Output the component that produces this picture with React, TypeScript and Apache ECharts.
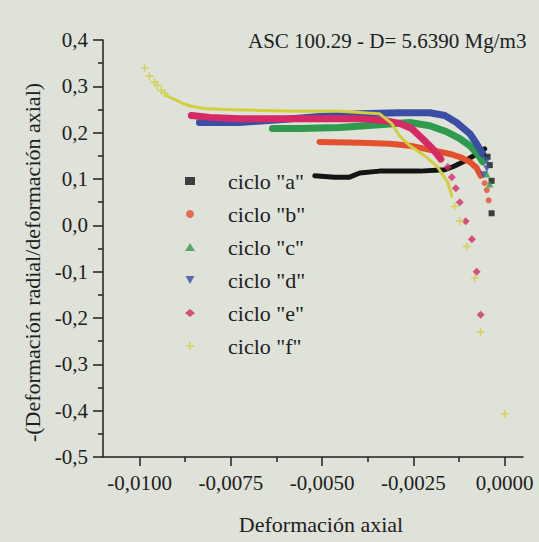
import React, { useEffect, useRef } from "react";
import * as echarts from "echarts";

const FONT = "'Liberation Serif', 'DejaVu Serif', serif";
const TEXT = "#202020";

const titleText = "ASC 100.29 - D= 5.6390 Mg/m3";
const xName = "Deformación axial";
const yName = "-(Deformación radial/deformación axial)";

const names = ['ciclo "a"', 'ciclo "b"', 'ciclo "c"', 'ciclo "d"', 'ciclo "e"', 'ciclo "f"'];
const colors = ["#141414", "#e4502e", "#2f9a4c", "#3a4ea6", "#d62a66", "#d2cf3e"];

const xMajorTicks = [-0.01, -0.0075, -0.005, -0.0025, 0];
const xMinorTicks = [-0.00875, -0.00625, -0.00375, -0.00125];

// ciclo "a"
const aBand = [
  [-0.0052, 0.107], [-0.00466, 0.104], [-0.00425, 0.104], [-0.00397, 0.113],
  [-0.00343, 0.117], [-0.00233, 0.117], [-0.00164, 0.12], [-0.00137, 0.128],
  [-0.00104, 0.141], [-0.00077, 0.154], [-0.00055, 0.165],
];
const aPoints = [
  [-0.00047, 0.148], [-0.00041, 0.13], [-0.00036, 0.096], [-0.00036, 0.026],
];
// ciclo "b"
const bBand = [
  [-0.00507, 0.18], [-0.00397, 0.178], [-0.00315, 0.176], [-0.0026, 0.172],
  [-0.00205, 0.163], [-0.0015, 0.154], [-0.00118, 0.146], [-0.00096, 0.137],
  [-0.00077, 0.124], [-0.00066, 0.107],
];
const bPoints = [[-0.00055, 0.091], [-0.00049, 0.076], [-0.00044, 0.054]];
// ciclo "c"
const cBand = [
  [-0.00636, 0.209], [-0.00562, 0.209], [-0.00452, 0.211], [-0.00343, 0.217],
  [-0.0026, 0.222], [-0.00205, 0.215], [-0.00159, 0.202], [-0.00123, 0.187],
  [-0.00096, 0.172], [-0.00074, 0.154], [-0.0006, 0.137],
];
const cPoints = [[-0.00049, 0.111], [-0.00041, 0.089]];
// ciclo "d"
const dBand = [
  [-0.00836, 0.222], [-0.00726, 0.222], [-0.00617, 0.228], [-0.00507, 0.235],
  [-0.00397, 0.241], [-0.00288, 0.243], [-0.00205, 0.243], [-0.00164, 0.237],
  [-0.00132, 0.222], [-0.00096, 0.198], [-0.00077, 0.176], [-0.0006, 0.154],
];
const dPoints = [[-0.00049, 0.139], [-0.00049, 0.122], [-0.00058, 0.109]];
// ciclo "e"
const eBand = [
  [-0.00858, 0.237], [-0.00808, 0.233], [-0.00726, 0.23], [-0.00617, 0.23],
  [-0.00507, 0.23], [-0.00397, 0.23], [-0.00329, 0.226], [-0.00288, 0.22],
  [-0.00255, 0.209], [-0.00225, 0.187], [-0.00197, 0.165], [-0.00175, 0.143],
];
const ePoints = [
  [-0.00156, 0.126], [-0.00145, 0.104], [-0.00134, 0.08], [-0.00123, 0.05],
  [-0.00107, 0.009], [-0.0009, -0.03], [-0.00077, -0.1], [-0.00066, -0.193],
];
// ciclo "f"
const fBand = [
  [-0.00926, 0.28], [-0.00904, 0.272], [-0.00882, 0.263], [-0.00858, 0.257],
  [-0.00822, 0.252], [-0.00767, 0.25], [-0.00671, 0.248], [-0.00562, 0.246],
  [-0.00452, 0.246], [-0.00343, 0.241], [-0.0031, 0.22], [-0.00288, 0.193],
  [-0.0026, 0.172], [-0.00219, 0.15], [-0.00186, 0.128], [-0.00156, 0.093],
  [-0.00145, 0.063],
];
const fPoints = [
  [-0.00986, 0.339], [-0.00973, 0.322], [-0.00959, 0.309], [-0.00951, 0.302],
  [-0.0094, 0.291], [-0.00932, 0.285],
  [-0.00137, 0.041], [-0.00123, 0.009], [-0.00104, -0.046], [-0.00082, -0.113],
  [-0.00066, -0.23], [0.0, -0.407],
];

const bands = [aBand, bBand, cBand, dBand, eBand, fBand];
const points = [aPoints, bPoints, cPoints, dPoints, ePoints, fPoints];
const bandWidths = [5, 6, 7, 7, 7, 3];

const INV_TRI = "path://M0,0 L10,0 L5,9 Z";
const CROSS = "path://M4,0 L6,0 L6,4 L10,4 L10,6 L6,6 L6,10 L4,10 L4,6 L0,6 L0,4 L4,4 Z";
const symbols = ["rect", "circle", "triangle", INV_TRI, "diamond", CROSS];
const symbolSizes = [6, 6, 7, 7, 8, 8];

const fmtY = (v: number) => (Math.abs(v) < 1e-9 ? 0 : v).toFixed(1).replace(".", ",");
const fmtX = (v: number) => (Math.abs(v) < 1e-12 ? 0 : v).toFixed(4).replace(".", ",");

export default function App() {
  const ref = useRef<HTMLDivElement>(null);
  useEffect(() => {
    if (!ref.current) return;
    const chart = echarts.init(ref.current, null, { renderer: "svg" });
    const series: any[] = [];
    names.forEach((name, i) => {
      series.push({
        name,
        type: "scatter",
        data: points[i],
        symbol: symbols[i],
        symbolSize: symbolSizes[i],
        itemStyle: { color: colors[i] },
        z: 3,
      });
      series.push({
        name,
        type: "line",
        data: bands[i],
        showSymbol: false,
        symbol: "none",
        itemStyle: { color: colors[i] },
        lineStyle: { color: colors[i], width: bandWidths[i], cap: "round", join: "round" },
        z: 2,
      });
    });
    const axisLine = { show: true, onZero: false, lineStyle: { color: TEXT, width: 1.5 } };
    chart.setOption({
      animation: false,
      backgroundColor: "#dee2d9",
      textStyle: { fontFamily: FONT },
      title: {
        text: titleText,
        left: 243,
        top: 25,
        textStyle: { fontFamily: FONT, fontSize: 21, fontWeight: "normal", color: TEXT },
      },
      legend: {
        orient: "vertical",
        left: 180,
        top: 165,
        itemWidth: 10,
        itemHeight: 8,
        itemGap: 11,
        data: names.map((n, i) => ({
          name: n,
          icon: symbols[i],
          itemStyle: { color: colors[i] },
        })),
        textStyle: {
          fontFamily: FONT,
          fontSize: 22,
          color: TEXT,
          padding: [0, 0, 0, 28],
          lineHeight: 19,
        },
        selectedMode: false,
      },
      grid: { left: 103, right: 16, top: 40, bottom: 85, containLabel: false },
      xAxis: [
        {
          type: "value",
          min: -0.011,
          max: 0.0005,
          name: xName,
          nameLocation: "middle",
          nameGap: 56,
          nameTextStyle: { fontFamily: FONT, fontSize: 22, color: TEXT, padding: [0, 0, 0, 16] },
          axisLine,
          splitLine: { show: false },
          axisTick: { show: true, customValues: xMajorTicks, length: 9, lineStyle: { color: TEXT, width: 1.5 } },
          axisLabel: {
            customValues: xMajorTicks,
            formatter: fmtX,
            margin: 15,
            fontFamily: FONT,
            fontSize: 21,
            color: TEXT,
          },
        },
        {
          type: "value",
          min: -0.011,
          max: 0.0005,
          position: "bottom",
          axisLine: { show: false, onZero: false },
          splitLine: { show: false },
          axisTick: { show: true, customValues: xMinorTicks, length: 5, lineStyle: { color: TEXT, width: 1.5 } },
          axisLabel: { show: false },
        },
      ],
      yAxis: {
        type: "value",
        min: -0.5,
        max: 0.4,
        interval: 0.1,
        name: yName,
        nameLocation: "middle",
        nameGap: 52,
        nameTextStyle: { fontFamily: FONT, fontSize: 22, color: TEXT, padding: [0, 28, 0, 0] },
        axisLine,
        splitLine: { show: false },
        axisTick: { show: true, length: 10, lineStyle: { color: TEXT, width: 1.5 } },
        minorTick: { show: true, splitNumber: 2, length: 5, lineStyle: { color: TEXT, width: 1.5 } },
        axisLabel: { formatter: fmtY, margin: 15, fontFamily: FONT, fontSize: 21, color: TEXT },
      },
      series,
    });
    return () => chart.dispose();
  }, []);
  return (
    <div
      ref={ref}
      style={{ position: "fixed", left: 0, top: 0, width: 539, height: 542 }}
    />
  );
}
